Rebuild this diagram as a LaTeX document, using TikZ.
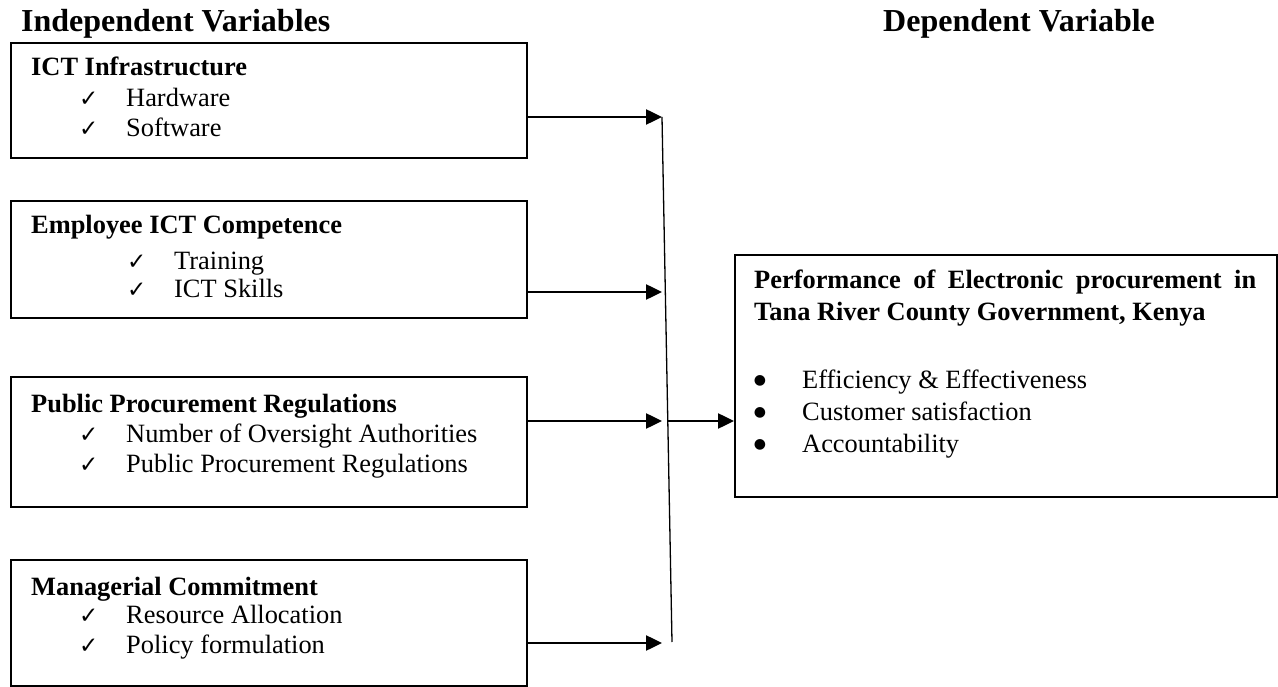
\documentclass[tikz,border=0pt]{standalone}
\usepackage{fontspec}
\setmainfont{Liberation Serif}
\newfontfamily\symfont{DejaVu Sans}
\usetikzlibrary{arrows.meta}
\begin{document}
\begin{tikzpicture}[x=1pt,y=-1pt,
  box/.style={draw, line width=1.8pt, inner sep=0pt, anchor=north west},
  hdr/.style={font=\fontsize{32}{36}\selectfont\bfseries, anchor=base west, inner sep=0pt},
  ttl/.style={font=\fontsize{26.4}{30}\selectfont\bfseries, anchor=base west, inner sep=0pt},
  itm/.style={font=\fontsize{26.4}{30}\selectfont, anchor=base west, inner sep=0pt},
  chk/.style={font=\symfont\fontsize{23}{26}\selectfont, anchor=base west, inner sep=0pt},
  bul/.style={font=\symfont\fontsize{14}{15}\selectfont, anchor=center, inner sep=0pt},
  arr/.style={line width=2.5pt, -{Triangle[length=16pt,width=15pt]}},
  vline/.style={line width=1.3pt}
]
\useasboundingbox (0,0) rectangle (1278,687);

% headers
\node[hdr] (hi) at (21,32) {Independent Variables};
\node[hdr] (hd) at (883,32) {Dependent Variable};

% boxes
\node[box, minimum width=516pt, minimum height=115pt] (b1) at (10,42) {};
\node[box, minimum width=516pt, minimum height=117pt] (b2) at (10,200) {};
\node[box, minimum width=516pt, minimum height=130pt] (b3) at (10,376) {};
\node[box, minimum width=516pt, minimum height=126pt] (b4) at (10,559) {};
\node[box, minimum width=542pt, minimum height=242pt] (rb) at (734,254) {};

% box 1
\node[ttl] (b1t) at (31,76) {ICT Infrastructure};
\node[chk] (b1c1) at (79,107) {✓};
\node[itm] (b1i1) at (126,107) {Hardware};
\node[chk] (b1c2) at (79,137) {✓};
\node[itm] (b1i2) at (126,137) {Software};

% box 2
\node[ttl] (b2t) at (31,234) {Employee ICT Competence};
\node[chk] (b2c1) at (127,270) {✓};
\node[itm] (b2i1) at (174,270) {Training};
\node[chk] (b2c2) at (127,298) {✓};
\node[itm] (b2i2) at (174,298) {ICT Skills};

% box 3
\node[ttl] (b3t) at (31,412) {Public Procurement Regulations};
\node[chk] (b3c1) at (79,442) {✓};
\node[itm] (b3i1) at (126,442) {Number of Oversight Authorities};
\node[chk] (b3c2) at (79,472) {✓};
\node[itm] (b3i2) at (126,472) {Public Procurement Regulations};

% box 4
\node[ttl] (b4t) at (31,595) {Managerial Commitment};
\node[chk] (b4c1) at (79,623) {✓};
\node[itm] (b4i1) at (126,623) {Resource Allocation};
\node[chk] (b4c2) at (79,653) {✓};
\node[itm] (b4i2) at (126,653) {Policy formulation};

% right box
\node[ttl] (rt1) at (754,289) {\makebox[502pt][s]{Performance of Electronic procurement in}};
\node[ttl] (rt2) at (754,320) {Tana River County Government, Kenya};
\node[bul] (bu1) at (760,381) {●};
\node[itm] (ri1) at (802,388) {Efficiency \& Effectiveness};
\node[bul] (bu2) at (760,413) {●};
\node[itm] (ri2) at (802,420) {Customer satisfaction};
\node[bul] (bu3) at (760,445) {●};
\node[itm] (ri3) at (802,452) {Accountability};

% connectors
\coordinate (vt) at (662,117);
\coordinate (vb) at (672,642);
\coordinate (t2) at (662,292);
\coordinate (t3) at (662,421);
\coordinate (t4) at (662,643);
\coordinate (j) at (667,421);

\draw[vline] (vt) -- (vb);
\draw[arr] (vt -| b1.east) -- (vt);
\draw[arr] (t2 -| b2.east) -- (t2);
\draw[arr] (t3 -| b3.east) -- (t3);
\draw[arr] (t4 -| b4.east) -- (t4);
\draw[arr] (j) -- (j -| rb.west);
\end{tikzpicture}
\end{document}
